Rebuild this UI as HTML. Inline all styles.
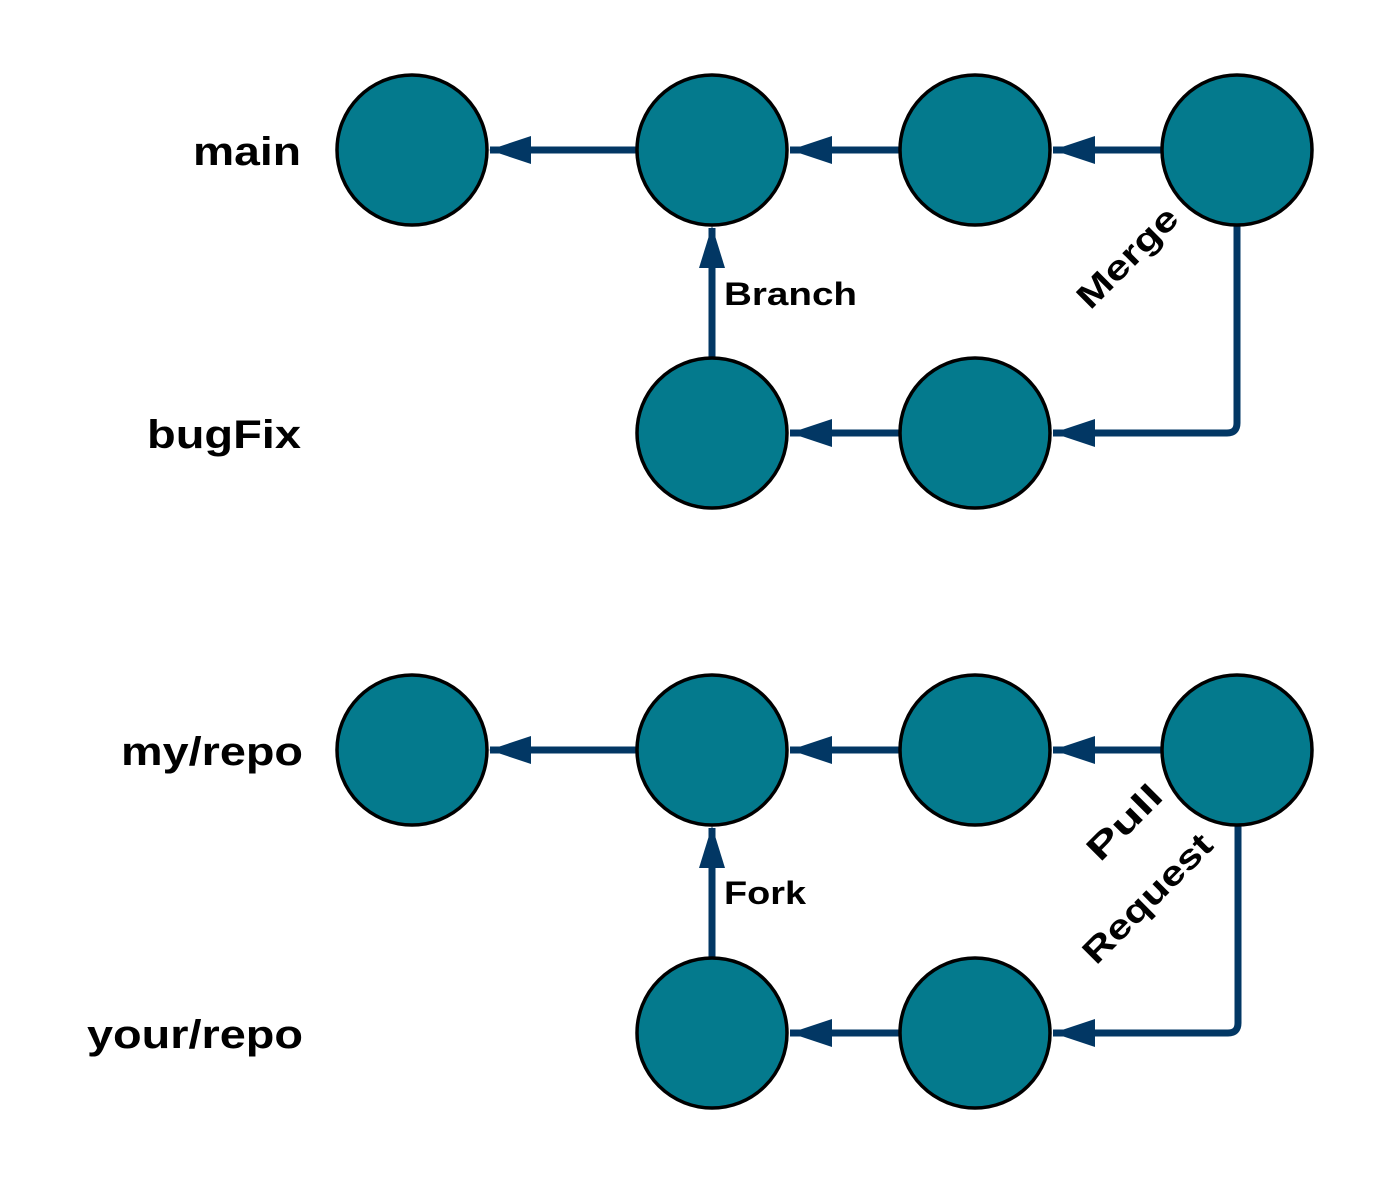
<!DOCTYPE html>
<html><head><style>html,body{margin:0;padding:0;background:#fff}svg{display:block}</style></head>
<body>
<svg width="1388" height="1183" viewBox="0 0 1388 1183" xmlns="http://www.w3.org/2000/svg">
<defs>
<g id="ah"><polygon points="0,0 42,-14 42,14" fill="#023764"/></g>
</defs>
<g stroke="#023764" stroke-width="7" fill="none">
<line x1="490" y1="150" x2="637" y2="150"/>
<line x1="790" y1="150" x2="900" y2="150"/>
<line x1="1053" y1="150" x2="1162" y2="150"/>
<line x1="790" y1="433" x2="900" y2="433"/>
<line x1="712" y1="228" x2="712" y2="358"/>
<path d="M1237 225 V423 Q1237 433 1227 433 H1053"/>
<line x1="490" y1="750" x2="637" y2="750"/>
<line x1="790" y1="750" x2="900" y2="750"/>
<line x1="1053" y1="750" x2="1162" y2="750"/>
<line x1="790" y1="1033" x2="900" y2="1033"/>
<line x1="712" y1="828" x2="712" y2="958"/>
<path d="M1238 825 V1023 Q1238 1033 1228 1033 H1053"/>
</g>
<use href="#ah" x="489" y="150"/>
<use href="#ah" x="790" y="150"/>
<use href="#ah" x="1053" y="150"/>
<use href="#ah" x="790" y="433"/>
<use href="#ah" x="1053" y="433"/>
<use href="#ah" x="489" y="750"/>
<use href="#ah" x="790" y="750"/>
<use href="#ah" x="1053" y="750"/>
<use href="#ah" x="790" y="1033"/>
<use href="#ah" x="1053" y="1033"/>
<polygon points="712,226 699,268 725,268" fill="#023764"/>
<polygon points="712,826 699,868 725,868" fill="#023764"/>
<g fill="#047a8d" stroke="#000" stroke-width="3.5">
<circle cx="412" cy="150" r="75"/>
<circle cx="712" cy="150" r="75"/>
<circle cx="975" cy="150" r="75"/>
<circle cx="1237" cy="150" r="75"/>
<circle cx="712" cy="433" r="75"/>
<circle cx="975" cy="433" r="75"/>
<circle cx="412" cy="750" r="75"/>
<circle cx="712" cy="750" r="75"/>
<circle cx="975" cy="750" r="75"/>
<circle cx="1237" cy="750" r="75"/>
<circle cx="712" cy="1033" r="75"/>
<circle cx="975" cy="1033" r="75"/>
</g>
<g font-family="Liberation Sans, sans-serif" font-weight="bold" fill="#000">
<text x="301" y="165" font-size="40" text-anchor="end" textLength="108" lengthAdjust="spacingAndGlyphs">main</text>
<text x="301" y="448" font-size="40" text-anchor="end" textLength="154" lengthAdjust="spacingAndGlyphs">bugFix</text>
<text x="303" y="765" font-size="40" text-anchor="end" textLength="182" lengthAdjust="spacingAndGlyphs">my/repo</text>
<text x="303" y="1048" font-size="40" text-anchor="end" textLength="216" lengthAdjust="spacingAndGlyphs">your/repo</text>
<text x="724" y="305" font-size="32" textLength="133" lengthAdjust="spacingAndGlyphs">Branch</text>
<text x="724" y="904" font-size="32" textLength="82" lengthAdjust="spacingAndGlyphs">Fork</text>
<text transform="translate(1127,257) rotate(-45)" x="-64" y="12" font-size="34" textLength="128" lengthAdjust="spacingAndGlyphs">Merge</text>
<text transform="translate(1124,822) rotate(-45)" x="-46" y="12" font-size="34" textLength="92" lengthAdjust="spacingAndGlyphs">Pull</text>
<text transform="translate(1147,898) rotate(-45)" x="-84" y="12" font-size="34" textLength="168" lengthAdjust="spacingAndGlyphs">Request</text>
</g>
</svg>
</body></html>
